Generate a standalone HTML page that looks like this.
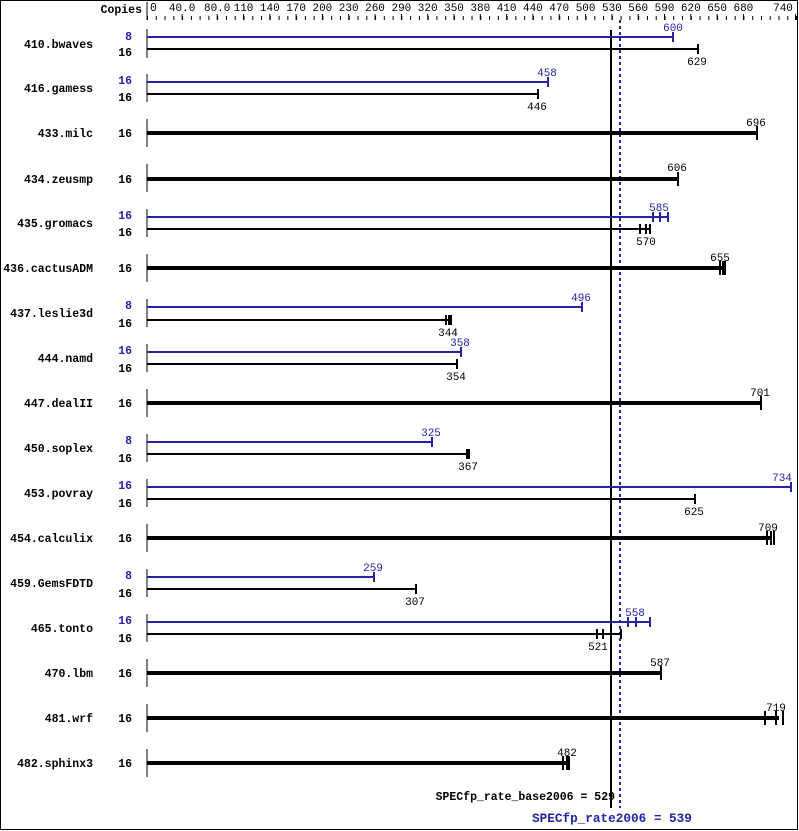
<!DOCTYPE html>
<html><head><meta charset="utf-8"><style>
html,body{margin:0;padding:0;background:#fff}
svg{display:block}
text{font-family:"Liberation Mono",monospace;font-size:11.5px}
.n{font-weight:bold;text-anchor:end}
.c{font-weight:bold;text-anchor:end}
.b{fill:#2323a8}
.v{text-anchor:middle;font-size:11px}
.big{font-size:12.7px;font-weight:bold}
</style></head><body>
<svg width="799" height="831" viewBox="0 0 799 831" xmlns="http://www.w3.org/2000/svg">
<rect x="0.5" y="0.5" width="797" height="829" fill="#fff" stroke="#000"/>
<text x="142" y="13" class="c">Copies</text>
<line x1="147" y1="2" x2="147" y2="20" stroke="#000"/>
<line x1="147" y1="18" x2="797" y2="18" stroke="#000" stroke-width="4" stroke-dasharray="1 7.771"/>
<g stroke="#000">
<line x1="182.1" y1="14" x2="182.1" y2="20"/><line x1="217.2" y1="14" x2="217.2" y2="20"/><line x1="243.5" y1="14" x2="243.5" y2="20"/><line x1="269.8" y1="14" x2="269.8" y2="20"/><line x1="296.1" y1="14" x2="296.1" y2="20"/><line x1="322.4" y1="14" x2="322.4" y2="20"/><line x1="348.7" y1="14" x2="348.7" y2="20"/><line x1="375" y1="14" x2="375" y2="20"/><line x1="401.4" y1="14" x2="401.4" y2="20"/><line x1="427.7" y1="14" x2="427.7" y2="20"/><line x1="454" y1="14" x2="454" y2="20"/><line x1="480.3" y1="14" x2="480.3" y2="20"/><line x1="506.6" y1="14" x2="506.6" y2="20"/><line x1="532.9" y1="14" x2="532.9" y2="20"/><line x1="559.2" y1="14" x2="559.2" y2="20"/><line x1="585.6" y1="14" x2="585.6" y2="20"/><line x1="611.9" y1="14" x2="611.9" y2="20"/><line x1="638.2" y1="14" x2="638.2" y2="20"/><line x1="664.5" y1="14" x2="664.5" y2="20"/><line x1="690.8" y1="14" x2="690.8" y2="20"/><line x1="717.1" y1="14" x2="717.1" y2="20"/><line x1="743.4" y1="14" x2="743.4" y2="20"/><line x1="795.5" y1="14" x2="795.5" y2="20"/>
</g>
<g style="font-size:11px">
<text x="150" y="11">0</text>
<text x="182.1" y="11" class="v">40.0</text><text x="217.2" y="11" class="v">80.0</text><text x="243.5" y="11" class="v">110</text><text x="269.8" y="11" class="v">140</text><text x="296.1" y="11" class="v">170</text><text x="322.4" y="11" class="v">200</text><text x="348.7" y="11" class="v">230</text><text x="375" y="11" class="v">260</text><text x="401.4" y="11" class="v">290</text><text x="427.7" y="11" class="v">320</text><text x="454" y="11" class="v">350</text><text x="480.3" y="11" class="v">380</text><text x="506.6" y="11" class="v">410</text><text x="532.9" y="11" class="v">440</text><text x="559.2" y="11" class="v">470</text><text x="585.6" y="11" class="v">500</text><text x="611.9" y="11" class="v">530</text><text x="638.2" y="11" class="v">560</text><text x="664.5" y="11" class="v">590</text><text x="690.8" y="11" class="v">620</text><text x="717.1" y="11" class="v">650</text><text x="743.4" y="11" class="v">680</text><text x="783" y="11" class="v">740</text>
</g>
<line x1="611" y1="30" x2="611" y2="808" stroke="#000" stroke-width="2"/>
<line x1="620" y1="20" x2="620" y2="808" stroke="#2323a8" stroke-width="2" stroke-dasharray="3 3"/>
<text x="615" y="800" class="n">SPECfp_rate_base2006 = 529</text>
<text x="532" y="822" class="b big">SPECfp_rate2006 = 539</text>

<g stroke="#000">
<line x1="147" y1="29" x2="147" y2="58"/><line x1="147" y1="74" x2="147" y2="102"/><line x1="147" y1="119" x2="147" y2="147"/><line x1="147" y1="164" x2="147" y2="192"/><line x1="147" y1="209" x2="147" y2="237"/><line x1="147" y1="254" x2="147" y2="282"/><line x1="147" y1="299" x2="147" y2="327"/><line x1="147" y1="344" x2="147" y2="372"/><line x1="147" y1="389" x2="147" y2="417"/><line x1="147" y1="434" x2="147" y2="462"/><line x1="147" y1="479" x2="147" y2="507"/><line x1="147" y1="524" x2="147" y2="552"/><line x1="147" y1="569" x2="147" y2="597"/><line x1="147" y1="614" x2="147" y2="642"/><line x1="147" y1="659" x2="147" y2="687"/><line x1="147" y1="704" x2="147" y2="732"/><line x1="147" y1="749" x2="147" y2="777"/>
</g>

<g>
<text x="93" y="48" class="n">410.bwaves</text>
<text x="93" y="92" class="n">416.gamess</text>
<text x="93" y="137" class="n">433.milc</text>
<text x="93" y="183" class="n">434.zeusmp</text>
<text x="93" y="227" class="n">435.gromacs</text>
<text x="93" y="272" class="n">436.cactusADM</text>
<text x="93" y="317" class="n">437.leslie3d</text>
<text x="93" y="362" class="n">444.namd</text>
<text x="93" y="407" class="n">447.dealII</text>
<text x="93" y="452" class="n">450.soplex</text>
<text x="93" y="497" class="n">453.povray</text>
<text x="93" y="542" class="n">454.calculix</text>
<text x="93" y="587" class="n">459.GemsFDTD</text>
<text x="93" y="632" class="n">465.tonto</text>
<text x="93" y="677" class="n">470.lbm</text>
<text x="93" y="722" class="n">481.wrf</text>
<text x="93" y="767" class="n">482.sphinx3</text>
</g>

<g>
<text x="132" y="40" class="c b">8</text><text x="132" y="56" class="c">16</text>
<text x="132" y="84" class="c b">16</text><text x="132" y="101" class="c">16</text>
<text x="132" y="137" class="c">16</text>
<text x="132" y="183" class="c">16</text>
<text x="132" y="219" class="c b">16</text><text x="132" y="236" class="c">16</text>
<text x="132" y="272" class="c">16</text>
<text x="132" y="309" class="c b">8</text><text x="132" y="327" class="c">16</text>
<text x="132" y="354" class="c b">16</text><text x="132" y="372" class="c">16</text>
<text x="132" y="407" class="c">16</text>
<text x="132" y="444" class="c b">8</text><text x="132" y="462" class="c">16</text>
<text x="132" y="489" class="c b">16</text><text x="132" y="507" class="c">16</text>
<text x="132" y="542" class="c">16</text>
<text x="132" y="579" class="c b">8</text><text x="132" y="597" class="c">16</text>
<text x="132" y="624" class="c b">16</text><text x="132" y="642" class="c">16</text>
<text x="132" y="677" class="c">16</text>
<text x="132" y="722" class="c">16</text>
<text x="132" y="767" class="c">16</text>
</g>

<g stroke="#2323a8" stroke-width="2">
<line x1="147" y1="37" x2="673" y2="37"/><line x1="673" y1="32" x2="673" y2="42"/>
<line x1="147" y1="82" x2="548" y2="82"/><line x1="548" y1="77" x2="548" y2="87"/>
<line x1="147" y1="217" x2="668" y2="217"/><line x1="653" y1="212" x2="653" y2="222"/><line x1="660" y1="212" x2="660" y2="222"/><line x1="668" y1="212" x2="668" y2="222"/>
<line x1="147" y1="307" x2="582" y2="307"/><line x1="582" y1="302" x2="582" y2="312"/>
<line x1="147" y1="352" x2="461" y2="352"/><line x1="461" y1="347" x2="461" y2="357"/>
<line x1="147" y1="442" x2="432" y2="442"/><line x1="432" y1="437" x2="432" y2="447"/>
<line x1="147" y1="487" x2="791" y2="487"/><line x1="791" y1="482" x2="791" y2="492"/>
<line x1="147" y1="577" x2="374" y2="577"/><line x1="374" y1="572" x2="374" y2="582"/>
<line x1="147" y1="622" x2="650" y2="622"/><line x1="628" y1="617" x2="628" y2="627"/><line x1="636" y1="617" x2="636" y2="627"/><line x1="650" y1="617" x2="650" y2="627"/>
</g>
<g class="b">
<text x="673" y="31" class="v">600</text>
<text x="547" y="76" class="v">458</text>
<text x="659" y="211" class="v">585</text>
<text x="581" y="301" class="v">496</text>
<text x="460" y="346" class="v">358</text>
<text x="431" y="436" class="v">325</text>
<text x="782" y="481" class="v">734</text>
<text x="373" y="571" class="v">259</text>
<text x="635" y="616" class="v">558</text>
</g>

<g stroke="#000" stroke-width="2">
<line x1="147" y1="49" x2="698" y2="49"/><line x1="698" y1="44" x2="698" y2="54"/>
<line x1="147" y1="94" x2="538" y2="94"/><line x1="538" y1="89" x2="538" y2="99"/>
<line x1="147" y1="229" x2="650" y2="229"/><line x1="640" y1="224" x2="640" y2="234"/><line x1="646" y1="224" x2="646" y2="234"/><line x1="650" y1="224" x2="650" y2="234"/>
<line x1="147" y1="320" x2="451" y2="320"/><line x1="446" y1="315" x2="446" y2="325"/><line x1="449" y1="315" x2="449" y2="325"/><line x1="451" y1="315" x2="451" y2="325"/>
<line x1="147" y1="364" x2="457" y2="364"/><line x1="457" y1="359" x2="457" y2="369"/>
<line x1="147" y1="454" x2="469" y2="454"/><line x1="467" y1="449" x2="467" y2="459"/><line x1="469" y1="449" x2="469" y2="459"/>
<line x1="147" y1="499" x2="695" y2="499"/><line x1="695" y1="494" x2="695" y2="504"/>
<line x1="147" y1="589" x2="416" y2="589"/><line x1="416" y1="584" x2="416" y2="594"/>
<line x1="147" y1="634" x2="621" y2="634"/><line x1="597" y1="629" x2="597" y2="639"/><line x1="603" y1="629" x2="603" y2="639"/><line x1="621" y1="629" x2="621" y2="639"/>
</g>
<g>
<text x="697" y="65" class="v">629</text>
<text x="537" y="110" class="v">446</text>
<text x="646" y="245" class="v">570</text>
<text x="448" y="336" class="v">344</text>
<text x="456" y="380" class="v">354</text>
<text x="468" y="470" class="v">367</text>
<text x="694" y="515" class="v">625</text>
<text x="415" y="605" class="v">307</text>
<text x="598" y="650" class="v">521</text>
</g>

<g stroke="#000" stroke-width="4">
<line x1="147" y1="133" x2="757" y2="133"/>
<line x1="147" y1="179" x2="678" y2="179"/>
<line x1="147" y1="268" x2="723" y2="268"/>
<line x1="147" y1="403" x2="761" y2="403"/>
<line x1="147" y1="538" x2="771" y2="538"/>
<line x1="147" y1="673" x2="661" y2="673"/>
<line x1="147" y1="718" x2="779" y2="718"/>
<line x1="147" y1="763" x2="567" y2="763"/>
</g>
<g stroke="#000" stroke-width="2">
<line x1="757" y1="126" x2="757" y2="140"/>
<line x1="678" y1="172" x2="678" y2="186"/>
<line x1="720" y1="261" x2="720" y2="275"/><line x1="723" y1="261" x2="723" y2="275"/><line x1="725" y1="261" x2="725" y2="275"/>
<line x1="761" y1="396" x2="761" y2="410"/>
<line x1="767" y1="531" x2="767" y2="545"/><line x1="771" y1="531" x2="771" y2="545"/><line x1="774" y1="531" x2="774" y2="545"/>
<line x1="661" y1="666" x2="661" y2="680"/>
<line x1="765" y1="711" x2="765" y2="725"/><line x1="776" y1="711" x2="776" y2="725"/><line x1="783" y1="711" x2="783" y2="725"/>
<line x1="563" y1="756" x2="563" y2="770"/><line x1="567" y1="756" x2="567" y2="770"/><line x1="569" y1="756" x2="569" y2="770"/>
</g>
<g>
<text x="756" y="126" class="v">696</text>
<text x="677" y="171" class="v">606</text>
<text x="720" y="261" class="v">655</text>
<text x="760" y="396" class="v">701</text>
<text x="768" y="531" class="v">709</text>
<text x="660" y="666" class="v">587</text>
<text x="776" y="711" class="v">719</text>
<text x="567" y="756" class="v">482</text>
</g>
</svg>
</body></html>
